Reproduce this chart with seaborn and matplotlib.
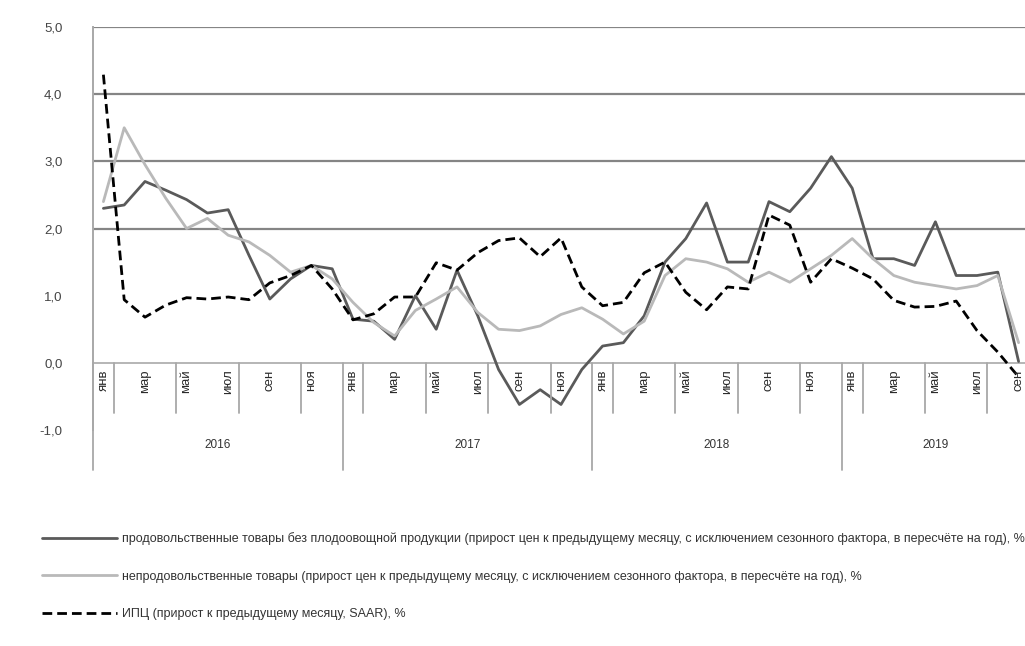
import numpy as np
import pandas as pd
import matplotlib
matplotlib.use("Agg")
import matplotlib.pyplot as plt
import seaborn as sns

# Периоды: январь 2016 - сентябрь 2019
years = [2016, 2017, 2018, 2019]
months_per_year = [12, 12, 12, 9]
month_names = ["янв", "фев", "мар", "апр", "май", "июн",
               "июл", "авг", "сен", "окт", "ноя", "дек"]

# Ряды
food = [2.30, 2.35, 2.70, 2.57, 2.43, 2.23, 2.28, 1.60, 0.95, 1.25, 1.45, 1.40,
        0.65, 0.62, 0.35, 1.00, 0.50, 1.38, 0.70, -0.10, -0.62, -0.40, -0.62, -0.10,
        0.25, 0.30, 0.70, 1.50, 1.85, 2.38, 1.50, 1.50, 2.40, 2.25, 2.60, 3.07,
        2.60, 1.55, 1.55, 1.45, 2.10, 1.30, 1.30, 1.35, 0.02]
nonfood = [2.40, 3.50, 2.95, 2.45, 2.00, 2.15, 1.90, 1.80, 1.60, 1.35, 1.45, 1.25,
           0.90, 0.60, 0.40, 0.78, 0.95, 1.13, 0.75, 0.50, 0.48, 0.55, 0.72, 0.82,
           0.65, 0.43, 0.62, 1.30, 1.55, 1.50, 1.40, 1.20, 1.35, 1.20, 1.40, 1.60,
           1.85, 1.55, 1.30, 1.20, 1.15, 1.10, 1.15, 1.30, 0.30]
cpi = [4.29, 0.94, 0.68, 0.86, 0.97, 0.95, 0.98, 0.94, 1.19, 1.30, 1.45, 1.10,
       0.64, 0.73, 0.98, 0.98, 1.49, 1.38, 1.64, 1.82, 1.86, 1.58, 1.86, 1.13,
       0.85, 0.90, 1.34, 1.50, 1.05, 0.79, 1.13, 1.10, 2.20, 2.05, 1.20, 1.55,
       1.41, 1.25, 0.93, 0.83, 0.84, 0.92, 0.48, 0.16, -0.21]

legend_labels = [
    "продовольственные товары без плодоовощной продукции (прирост цен к предыдущему месяцу, "
    "с исключением сезонного фактора, в пересчёте на год), %",
    "непродовольственные товары (прирост цен к предыдущему месяцу, с исключением "
    "сезонного фактора, в пересчёте на год), %",
    "ИПЦ (прирост к предыдущему месяцу, SAAR), %",
]

y_ticks = [-1, 0, 1, 2, 3, 4, 5]

df = pd.DataFrame({"i": np.arange(len(cpi)), "food": food,
                   "nonfood": nonfood, "cpi": cpi})

sns.set_style("white")
plt.rcParams["font.family"] = ["Liberation Sans", "DejaVu Sans"]

fig = plt.figure(figsize=(10.25, 6.46), dpi=100)
ax = fig.add_axes([93 / 1025, (646 - 430) / 646, 936 / 1025, 403 / 646])

# сетка и ось
for y in [2, 3, 4, 5]:
    ax.axhline(y, color="#858585", lw=1.6, zorder=0)
ax.axhline(0, color="#b5b5b5", lw=1.4, zorder=0)

sns.lineplot(data=df, x="i", y="food", ax=ax, color="#5a5a5a", lw=2.0,
             label=legend_labels[0])
sns.lineplot(data=df, x="i", y="nonfood", ax=ax, color="#b9b9b9", lw=2.0,
             label=legend_labels[1])
sns.lineplot(data=df, x="i", y="cpi", ax=ax, color="black", lw=2.0,
             linestyle=(0, (3.5, 1.8)), label=legend_labels[2])

handles, labs = ax.get_legend_handles_labels()
ax.get_legend().remove()

ax.set_xlim(-0.5, len(cpi) - 0.5)
ax.set_ylim(-1, 5)
ax.set_yticks(y_ticks)
ax.set_yticklabels([f"{v:.1f}".replace(".", ",") for v in y_ticks])
ax.set_xticks([])
ax.set_xlabel("")
ax.set_ylabel("")
ax.tick_params(axis="y", length=0, pad=22, labelsize=9.5, labelcolor="#444444")
for s in ["top", "right", "bottom"]:
    ax.spines[s].set_visible(False)
ax.spines["left"].set_color("#a8a8a8")
ax.spines["left"].set_linewidth(1.4)

# подписи категорий (месяцы и годы)
for k in range(0, len(cpi), 3):
    ax.plot([k + 0.5, k + 0.5], [0, -0.75], color="#a8a8a8", lw=1.3)

start = 0
for yr, n in zip(years, months_per_year):
    ax.plot([start - 0.5, start - 0.5], [0, -1.6], color="#a8a8a8", lw=1.3,
            clip_on=False)
    for m in range(0, n, 2):
        ax.text(start + m, -0.1, month_names[m], rotation=90, ha="center",
                va="top", fontsize=9.5, color="#2a2a2a")
    ax.text(start + (n - 1) / 2, -1.22, str(yr), ha="center", va="center",
            fontsize=8.5, color="#333333")
    start += n

fig.legend(handles, labs, loc="upper left", bbox_to_anchor=(0.041, 0.176),
           frameon=False, fontsize=9, handlelength=6.0, handletextpad=0.4,
           labelspacing=2.05, borderpad=0, borderaxespad=0, labelcolor="#333333")

fig.savefig("out.png", dpi=100)
